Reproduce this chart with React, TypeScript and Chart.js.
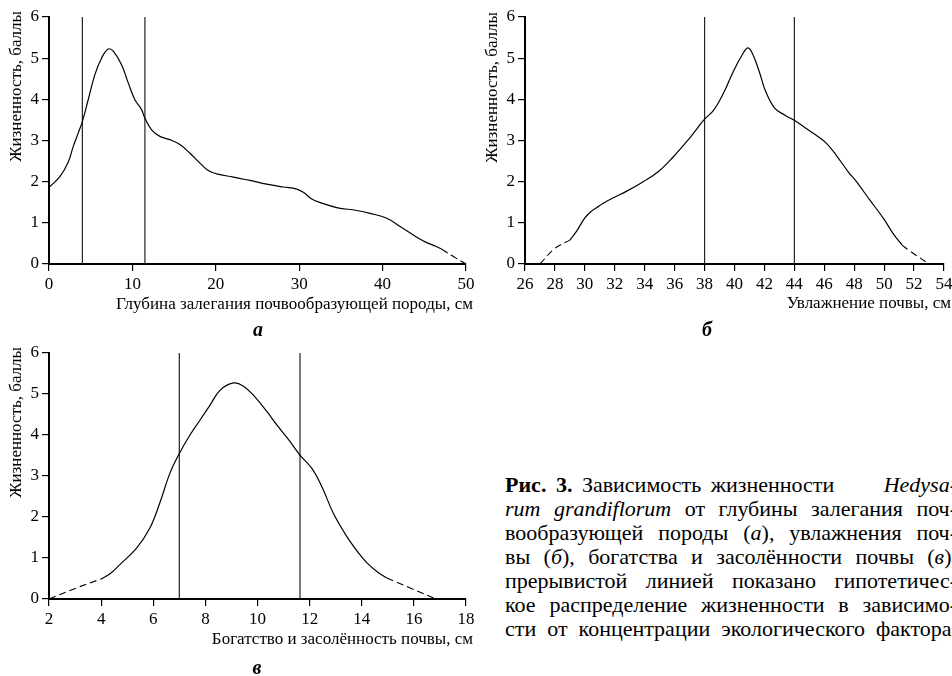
import React, { useEffect, useRef } from "react";
import { Chart, registerables } from "chart.js";

Chart.register(...registerables);

const FONT = "'Liberation Serif', 'Times New Roman', serif";

// ---------- Panel а: depth of parent rock ----------
const depthX = [0, 1.3, 2.3, 2.9, 3.5, 4.0, 4.7, 5.5, 6.3, 7.1, 7.7, 8.7, 9.5, 10.3, 11.1, 11.5, 12.3, 13.3, 14.5, 15.7, 16.9, 18.1, 19.1, 20.1, 22.1, 24.1, 26.1, 28.1, 29.7, 30.5, 31.5, 32.7, 34.5, 36.9, 38.5, 40.5, 42.1, 44.1, 45.3, 46.5, 47.1];
const depthY = [1.86, 2.12, 2.47, 2.85, 3.18, 3.46, 3.99, 4.6, 5.0, 5.22, 5.17, 4.84, 4.4, 3.99, 3.75, 3.54, 3.26, 3.1, 3.02, 2.9, 2.69, 2.45, 2.27, 2.19, 2.11, 2.03, 1.94, 1.87, 1.82, 1.74, 1.58, 1.48, 1.37, 1.3, 1.23, 1.11, 0.91, 0.65, 0.52, 0.42, 0.36];
const depthDashRightX = [47.1, 48.5, 50];
const depthDashRightY = [0.36, 0.18, 0];
const depthBounds = [4, 11.5];
const depthTicks = { min: 0, max: 50, step: 10 };

// ---------- Panel б: soil moisture ----------
const moistX = [29.0, 29.45, 30.0, 30.4, 30.8, 31.2, 31.9, 32.8, 33.9, 34.9, 35.9, 36.8, 37.5, 38.0, 38.6, 39.25, 39.9, 40.5, 40.9, 41.25, 41.7, 42.05, 42.7, 43.4, 44.05, 44.8, 45.6, 46.15, 46.8, 47.6, 48.15, 49.05, 49.95, 50.6, 51.2];
const moistY = [0.58, 0.8, 1.12, 1.27, 1.37, 1.47, 1.61, 1.77, 2.0, 2.24, 2.6, 2.97, 3.29, 3.52, 3.73, 4.14, 4.66, 5.07, 5.25, 5.07, 4.62, 4.22, 3.78, 3.61, 3.48, 3.29, 3.09, 2.93, 2.64, 2.24, 2.0, 1.55, 1.11, 0.74, 0.46];
const moistDashLeftX = [27, 28, 29.0];
const moistDashLeftY = [0, 0.38, 0.58];
const moistDashRightX = [51.2, 51.7, 53];
const moistDashRightY = [0.46, 0.32, 0];
const moistBounds = [38, 44];
const moistTicks = { min: 26, max: 54, step: 2 };

// ---------- Panel в: richness and salinity ----------
const richX = [4.0, 4.33, 4.72, 5.36, 5.87, 6.25, 6.64, 7.0, 7.41, 7.79, 8.18, 8.56, 9.07, 9.46, 9.9, 10.35, 10.75, 11.2, 11.63, 12.08, 12.47, 12.91, 13.43, 13.88, 14.2, 14.58, 14.96];
const richY = [0.49, 0.61, 0.84, 1.24, 1.73, 2.34, 3.07, 3.55, 4.0, 4.36, 4.73, 5.09, 5.27, 5.19, 4.93, 4.58, 4.24, 3.88, 3.51, 3.19, 2.74, 2.09, 1.52, 1.12, 0.88, 0.67, 0.51];
const richDashLeftX = [2, 3.05, 4.0];
const richDashLeftY = [0, 0.27, 0.49];
const richDashRightX = [14.96, 15.86, 16.85];
const richDashRightY = [0.51, 0.27, 0];
const richBounds = [7, 11.63];
const richTicks = { min: 2, max: 18, step: 2 };

const yTitle = "Жизненность, баллы";
const xTitles = [
  "Глубина залегания почвообразующей породы, см",
  "Увлажнение почвы, см",
  "Богатство и засолённость почвы, см",
];
const panelLetters = ["а", "б", "в"];

const pts = (xs: number[], ys: number[]) => xs.map((x, i) => ({ x, y: ys[i] }));

type PanelProps = {
  left: number;
  top: number;
  width: number;
  height: number;
  padRight: number;
  plotBottom: number;
  solid: { x: number; y: number }[];
  dashes: { x: number; y: number }[][];
  bounds: number[];
  ticks: { min: number; max: number; step: number };
  xTitle: string;
  letter: string;
  letterX: number;
  letterY: number;
  yTitleX: number;
  yTitleTop: number;
  xTitleY: number;
};

function Panel(p: PanelProps) {
  const ref = useRef<HTMLCanvasElement>(null);
  useEffect(() => {
    const textPlugin = {
      id: "panelTexts",
      afterDraw(chart: any) {
        const ctx = chart.ctx as CanvasRenderingContext2D;
        ctx.save();
        ctx.fillStyle = "#000";
        ctx.font = `17px ${FONT}`;
        ctx.save();
        ctx.translate(p.yTitleX, p.yTitleTop);
        ctx.rotate(-Math.PI / 2);
        ctx.textAlign = "right";
        ctx.textBaseline = "middle";
        ctx.fillText(yTitle, 0, 0);
        ctx.restore();
        ctx.textAlign = "right";
        ctx.textBaseline = "middle";
        ctx.fillText(p.xTitle, chart.chartArea.right + 7, p.xTitleY);
        ctx.font = `italic bold 20px ${FONT}`;
        ctx.textAlign = "center";
        ctx.fillText(p.letter, p.letterX, p.letterY);
        ctx.restore();
      },
    };
    const datasets: any[] = [
      {
        data: p.solid,
        borderColor: "#000",
        borderWidth: 1.2,
        pointRadius: 0,
        showLine: true,
        tension: 0.4,
      },
      ...p.dashes.map((d) => ({
        data: d,
        borderColor: "#000",
        borderWidth: 1.1,
        borderDash: [7, 4],
        pointRadius: 0,
        showLine: true,
        tension: 0.4,
      })),
      ...p.bounds.map((b) => ({
        data: [
          { x: b, y: 0 },
          { x: b, y: 6 },
        ],
        borderColor: "#222",
        borderWidth: 1.2,
        pointRadius: 0,
        showLine: true,
        tension: 0,
      })),
    ];
    const tickFont = { family: FONT, size: 17 };
    const chart = new Chart(ref.current as HTMLCanvasElement, {
      type: "scatter",
      data: { datasets },
      plugins: [textPlugin],
      options: {
        responsive: false,
        animation: false,
        devicePixelRatio: 1,
        layout: { padding: { top: 17, right: p.padRight, left: 0, bottom: 0 } },
        plugins: { legend: { display: false }, tooltip: { enabled: false } },
        scales: {
          x: {
            type: "linear",
            min: p.ticks.min,
            max: p.ticks.max,
            ticks: {
              stepSize: p.ticks.step,
              color: "#000",
              font: tickFont,
              padding: 3,
              maxRotation: 0,
              autoSkip: false,
            },
            grid: {
              display: true,
              drawOnChartArea: false,
              drawTicks: true,
              tickLength: 7,
              color: "#000",
              lineWidth: 1.2,
            },
            border: { display: true, color: "#000", width: 2 },
            afterFit: (s: any) => {
              s.height = p.height - p.plotBottom;
              s.paddingLeft = 0;
              s.paddingRight = 0;
            },
          },
          y: {
            type: "linear",
            min: 0,
            max: 6,
            ticks: { stepSize: 1, color: "#000", font: tickFont, padding: 3 },
            grid: {
              display: true,
              drawOnChartArea: false,
              drawTicks: true,
              tickLength: 7,
              color: "#000",
              lineWidth: 1.2,
            },
            border: { display: true, color: "#000", width: 2 },
            afterFit: (s: any) => {
              s.width = 49;
              s.paddingTop = 0;
              s.paddingBottom = 0;
            },
          },
        },
      } as any,
    });
    return () => chart.destroy();
  }, []);
  return (
    <canvas
      ref={ref}
      width={p.width}
      height={p.height}
      style={{ position: "absolute", left: p.left, top: p.top, width: p.width, height: p.height }}
    />
  );
}

const lineStyle: React.CSSProperties = {
  width: 452,
  textAlign: "justify",
  textAlignLast: "justify" as any,
  whiteSpace: "normal",
  height: 24,
  overflow: "hidden",
};

const groupStyle: React.CSSProperties = { display: "inline-block", whiteSpace: "nowrap" };

export default function App() {
  return (
    <div
      style={{
        position: "fixed",
        left: 0,
        top: 0,
        width: 952,
        height: 676,
        overflow: "hidden",
        background: "#fff",
      }}
    >
      <Panel
        left={0}
        top={0}
        width={476}
        height={345}
        padRight={10}
        plotBottom={264}
        solid={pts(depthX, depthY)}
        dashes={[pts(depthDashRightX, depthDashRightY)]}
        bounds={depthBounds}
        ticks={depthTicks}
        xTitle={xTitles[0]}
        letter={panelLetters[0]}
        letterX={258}
        letterY={331}
        yTitleX={17}
        yTitleTop={11}
        xTitleY={305}
      />
      <Panel
        left={476}
        top={0}
        width={476}
        height={345}
        padRight={8}
        plotBottom={264}
        solid={pts(moistX, moistY)}
        dashes={[pts(moistDashLeftX, moistDashLeftY), pts(moistDashRightX, moistDashRightY)]}
        bounds={moistBounds}
        ticks={moistTicks}
        xTitle={xTitles[1]}
        letter={panelLetters[1]}
        letterX={231}
        letterY={331}
        yTitleX={17}
        yTitleTop={12}
        xTitleY={304}
      />
      <Panel
        left={0}
        top={336}
        width={476}
        height={340}
        padRight={10}
        plotBottom={263}
        solid={pts(richX, richY)}
        dashes={[pts(richDashLeftX, richDashLeftY), pts(richDashRightX, richDashRightY)]}
        bounds={richBounds}
        ticks={richTicks}
        xTitle={xTitles[2]}
        letter={panelLetters[2]}
        letterX={257}
        letterY={333}
        yTitleX={17}
        yTitleTop={11}
        xTitleY={304}
      />
      <div
        style={{
          position: "absolute",
          left: 505,
          top: 473,
          width: 447,
          overflow: "hidden",
          fontFamily: FONT,
          fontSize: 22,
          lineHeight: "24px",
          color: "#000",
        }}
      >
        <div style={{ width: 460 }}>
          <div style={lineStyle}>
            <span style={{ ...groupStyle, wordSpacing: 4 }}>
              <b>Рис. 3.</b> Зависимость жизненности
            </span>{" "}
            <i>Hedysa-</i>
          </div>
          <div style={lineStyle}>
            <i>rum grandiflorum</i> от глубины залегания поч-
          </div>
          <div style={lineStyle}>
            вообразующей породы (<i>а</i>), увлажнения поч-
          </div>
          <div style={lineStyle}>
            вы (<i>б</i>), богатства и засолённости почвы (<i>в</i>).
          </div>
          <div style={lineStyle}>прерывистой линией показано гипотетичес-</div>
          <div style={lineStyle}>кое распределение жизненности в зависимо-</div>
          <div style={lineStyle}>сти от концентрации экологического фактора.</div>
        </div>
      </div>
    </div>
  );
}
